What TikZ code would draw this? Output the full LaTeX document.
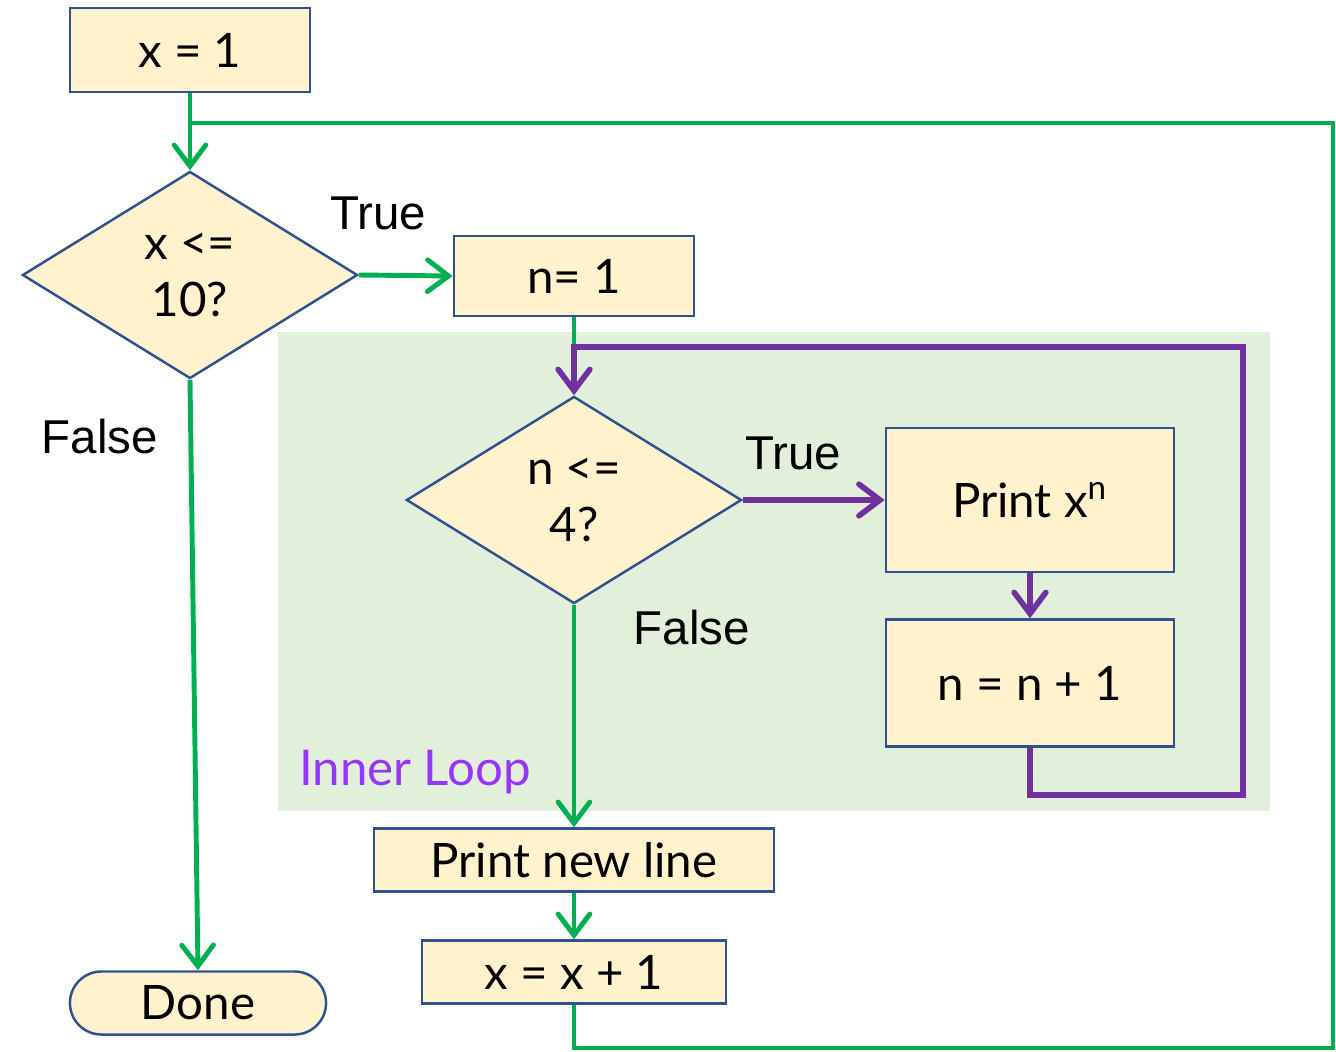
\documentclass[tikz,border=0pt]{standalone}
\usepackage{fontspec}
\setmainfont{Lato}
\newfontfamily\labelfont{Liberation Sans}
\usetikzlibrary{arrows.meta,shapes.geometric,shapes.misc}
\definecolor{boxfill}{HTML}{FFF2CC}
\definecolor{boxline}{HTML}{2F528F}
\definecolor{loopbg}{HTML}{E2EFDA}
\definecolor{outergreen}{HTML}{00B050}
\definecolor{innerpurple}{HTML}{7030A0}
\definecolor{innertext}{HTML}{9933FF}
\tikzset{
	block/.style = {draw = boxline, fill = boxfill, line width = 0.7pt, inner sep = 0pt, font = \fontsize{13.5}{16}\selectfont},
	decision/.style = {block, shape = diamond, aspect = 1.62, align = center, minimum width = 3.35cm, minimum height = 2.07cm},
	outerflow/.style = {draw = outergreen, line width = 1.4pt, -{Straight Barb[length = 6pt, width = 9pt, line cap = round]}},
	innerflow/.style = {draw = innerpurple, line width = 1.6pt, -{Straight Barb[length = 6pt, width = 9pt, line cap = round]}},
	branch/.style = {font = \labelfont\fontsize{13.5}{16}\selectfont}
}
\begin{document}
\begin{tikzpicture}[x = 0.01cm, y = -0.01cm]
		\useasboundingbox (0, 0) rectangle (1336, 1051);
		% inner loop area
		\fill [loopbg] (278, 332) rectangle (1270, 811);
		\node [innertext, font = \fontsize{14}{16}\selectfont] (innername) at (415, 772) {Inner Loop};
		% blocks
		\node [block, minimum width = 2.4cm, minimum height = 0.84cm] (xone) at (190, 50) {x = 1};
		\node [decision] (xtest) at (190, 275) {x <=\\ 10?};
		\node [block, minimum width = 2.4cm, minimum height = 0.8cm] (none) at (574, 276) {n= 1};
		\node [decision] (ntest) at (574, 500) {n <=\\ 4?};
		\node [block, minimum width = 2.88cm, minimum height = 1.44cm] (power) at (1030, 500) {Print x\textsuperscript{n}};
		\node [block, minimum width = 2.88cm, minimum height = 1.27cm] (nstep) at (1030, 683) {n = n + 1};
		\node [block, minimum width = 4cm, minimum height = 0.63cm] (newline) at (574, 860) {Print new line};
		\node [block, minimum width = 3.04cm, minimum height = 0.63cm] (xstep) at (574, 972) {x = x + 1};
		\node [block, shape = rounded rectangle, minimum width = 2.56cm, minimum height = 0.63cm] (done) at (198, 1003) {Done};
		% branch labels
		\foreach \name/\pos/\txt in {xtrue/{378, 213}/True, xfalse/{100, 437}/False, ntrue/{793, 453}/True, nfalse/{692, 628}/False}{
			\node [branch] (\name) at (\pos) {\txt};}
		% turning points
		\coordinate (outerjoin) at (190, 123);
		\coordinate (outerright) at (1333, 123);
		\coordinate (outerbottom) at (1333, 1048);
		\coordinate (innerjoin) at (574, 347);
		\coordinate (innertop) at (1243, 347);
		\coordinate (innerbottom) at (1243, 795);
		% outer loop
		\draw [outerflow] (xone) -- (xtest);
		\draw [outerflow] (xtest.east) -- (none.west);
		\draw [outerflow] (xtest.south) -- (done.north);
		\draw [outerflow, -] (none.south) -- (innerjoin);
		\draw [outerflow] (ntest.south) -- (newline.north);
		\draw [outerflow] (newline) -- (xstep);
		\draw [outerflow, -] (xstep.south) |- (outerbottom) -- (outerright) -- (outerjoin);
		% inner loop
		\draw [innerflow] (ntest.east) -- (power.west);
		\draw [innerflow] (power) -- (nstep);
		\draw [innerflow] (nstep.south) |- (innerbottom) -- (innertop) -- (innerjoin) -- (ntest.north);
\end{tikzpicture}
\end{document}
